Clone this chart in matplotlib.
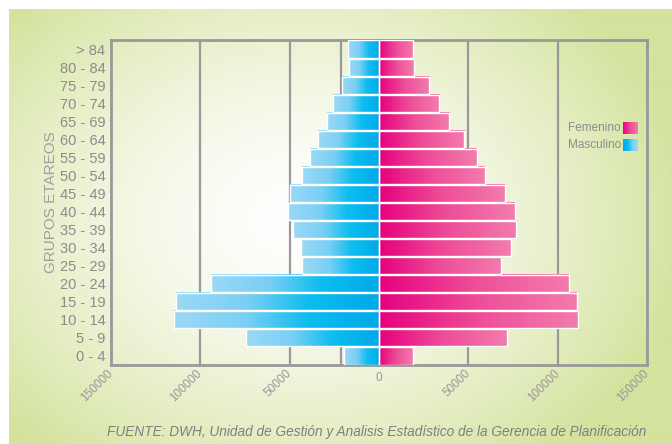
import numpy as np
import matplotlib
matplotlib.use("Agg")
import matplotlib.pyplot as plt
from matplotlib.colors import LinearSegmentedColormap, to_rgb

plt.rcParams['font.family'] = ['Liberation Sans', 'DejaVu Sans']

# datos de la piramide
grupos = ['0 - 4', '5 - 9', '10 - 14', '15 - 19', '20 - 24', '25 - 29', '30 - 34',
          '35 - 39', '40 - 44', '45 - 49', '50 - 54', '55 - 59', '60 - 64',
          '65 - 69', '70 - 74', '75 - 79', '80 - 84', '> 84']
masculino = [19800, 74600, 114900, 113600, 94000, 43100, 43800, 48300, 51100,
             50000, 43100, 38600, 34000, 29100, 25700, 20900, 16800, 17500]
femenino = [19200, 71400, 111200, 110800, 106100, 68300, 73900, 76800, 76100,
            70500, 59300, 54700, 47600, 39200, 33600, 28000, 19400, 19200]
tick_vals = [-150000, -100000, -50000, 0, 50000, 100000, 150000]
tick_labels = ['150000', '100000', '50000', '0', '50000', '100000', '150000']
grid_vals = [-100000, -50000, -21000, 50000, 100000]

gray = '#8c8c8c'
cm_azul = LinearSegmentedColormap.from_list('azul', [(0, '#00a9e9'), (0.35, '#0dbdf0'),
                                                     (0.65, '#7acff4'), (1, '#9bd9f6')])
cm_rosa = LinearSegmentedColormap.from_list('rosa', [(0, '#e6007e'), (0.5, '#ee4d98'),
                                                     (1, '#f27cad')])

fig = plt.figure(figsize=(6.72, 4.44), dpi=100)
fig.patch.set_facecolor('white')

# fondo con degradado radial
bg = fig.add_axes([9/672, 0, 1 - 9/672, 1 - 9/444])
bg.set_axis_off()
W, H = 663, 435
xx, yy = np.meshgrid(np.arange(W) + 9, np.arange(H) + 9)
r = np.sqrt(((xx - 300) / 390.0) ** 2 + ((yy - 220) / 300.0) ** 2)
t = np.clip(r, 0, 1) ** 1.5
c0 = np.array(to_rgb('#ffffff'))
c1 = np.array(to_rgb('#d4e39e'))
img = c0 * (1 - t[..., None]) + c1 * t[..., None]
bg.imshow(img, aspect='auto', extent=(0, 1, 0, 1))
bg.set_xlim(0, 1)
bg.set_ylim(0, 1)

ax = fig.add_axes([111/672, 1 - 365/444, 536/672, 325/444])
ax.patch.set_alpha(0)
y = np.arange(len(grupos))

for g in grid_vals:
    ax.axvline(g, color='#999999', lw=1.6, zorder=1)

grad = np.linspace(0, 1, 256).reshape(1, -1)
bars_m = ax.barh(y, [-v for v in masculino], height=0.95, facecolor='none',
                 edgecolor='white', lw=1, zorder=4)
bars_f = ax.barh(y, femenino, height=0.95, facecolor='none',
                 edgecolor='white', lw=1, zorder=4)
for bars, cmap in ((bars_m, cm_azul), (bars_f, cm_rosa)):
    for b in bars:
        x0 = b.get_x()
        ax.imshow(grad, cmap=cmap, aspect='auto', zorder=3,
                  extent=(x0, x0 + b.get_width(), b.get_y(), b.get_y() + b.get_height()))

ax.set_xlim(-150000, 150000)
ax.set_ylim(-0.5, len(grupos) - 0.5)
ax.set_yticks(y)
ax.set_yticklabels(grupos, fontsize=10.5, color=gray)
ax.set_xticks(tick_vals)
ax.set_xticklabels(tick_labels, fontsize=8.5, color='#999999')
ax.tick_params(length=0)
ax.tick_params(axis='y', pad=4)
for lab, v in zip(ax.get_xticklabels(), tick_vals):
    if v == 0:
        lab.set_rotation(0)
        lab.set_va('top')
        lab.set_ha('center')
    else:
        lab.set_rotation(45)
        lab.set_rotation_mode('anchor')
        lab.set_ha('right')
        lab.set_va('center')
ax.tick_params(axis='x', pad=5)
for s in ax.spines.values():
    s.set_color('#999999')
    s.set_linewidth(2)
ax.set_ylabel('GRUPOS ETAREOS', fontsize=11, color='#a0a0a0', labelpad=1)

# leyenda
fig.text(621/672, 1 - 128/444, 'Femenino', ha='right', va='center', fontsize=8.5, color=gray)
fig.text(621/672, 1 - 145/444, 'Masculino', ha='right', va='center', fontsize=8.5, color=gray)
for ypix, cmap in ((122, cm_rosa), (139, cm_azul)):
    lax = fig.add_axes([623/672, 1 - (ypix + 12)/444, 15/672, 12/444])
    lax.imshow(grad, cmap=cmap, aspect='auto')
    lax.set_axis_off()

fig.text(377/672, 1 - 432/444,
         'FUENTE: DWH, Unidad de Gestión y Analisis Estadístico de la Gerencia de Planificación',
         ha='center', va='center', fontsize=9.8, style='italic', color='#7f7f7f')

fig.savefig('out.png', dpi=100)
